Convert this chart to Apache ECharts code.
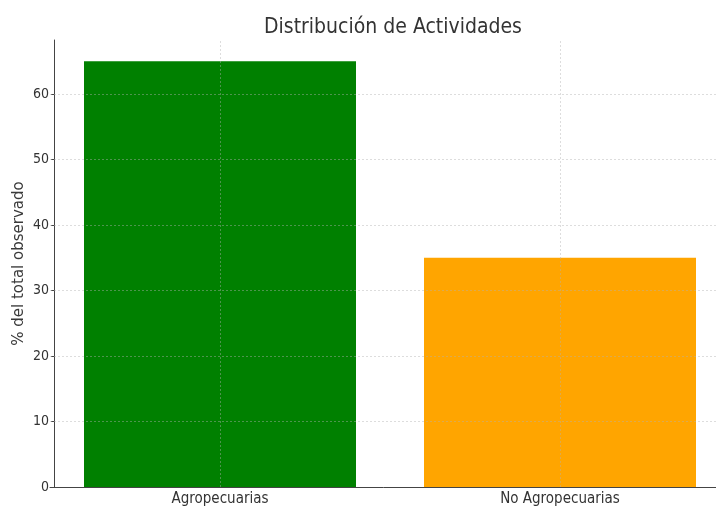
<!DOCTYPE html>
<html>
<head>
<meta charset="utf-8">
<script src="https://cdn.jsdelivr.net/npm/echarts@6/dist/echarts.min.js"></script>
<style>
  html, body { margin: 0; padding: 0; background: #fff; }
  #chart { width: 716px; height: 510px; }
</style>
</head>
<body>
<div id="chart"></div>
<script>
var categories = ['Agropecuarias', 'No Agropecuarias'];
var values = [65, 35];
var barColors = ['#008000', '#FFA500'];
var yTicks = [10, 20, 30, 40, 50, 60];

var chart = echarts.init(document.getElementById('chart'));

var gridStyle = { color: 'rgba(176,176,176,0.55)', width: 0.8, type: [2, 2] };

var markData = [];
categories.forEach(function (c) { markData.push({ xAxis: c }); });
yTicks.forEach(function (t) { markData.push({ yAxis: t }); });

var option = {
    animation: false,
    textStyle: { fontFamily: 'DejaVu Sans Condensed' },
    title: {
        text: 'Distribución de Actividades',
        left: 388,
        textAlign: 'center',
        top: 12,
        textStyle: { fontSize: 21, fontWeight: 'normal', color: '#333', fontFamily: 'DejaVu Sans Condensed' }
    },
    grid: { left: 50, top: 40, width: 680, height: 447, outerBoundsMode: 'none', containLabel: false },
    xAxis: {
        type: 'category',
        data: categories,
        axisLine: { lineStyle: { color: '#444', width: 1 } },
        axisTick: { alignWithLabel: true, length: 3, lineStyle: { color: '#444' } },
        axisLabel: { color: '#333', fontSize: 15, margin: 5, fontFamily: 'DejaVu Sans Condensed' },
        splitLine: { show: false }
    },
    yAxis: {
        type: 'value',
        min: 0,
        max: 68.25,
        interval: 10,
        offset: -4,
        name: '% del total observado',
        nameLocation: 'middle',
        nameGap: 27,
        nameMoveOverlap: false,
        nameTextStyle: { color: '#3a3a3a', fontSize: 15, fontFamily: 'DejaVu Sans' },
        axisLine: { show: true, lineStyle: { color: '#444', width: 1 } },
        axisTick: { show: true, length: 3, lineStyle: { color: '#444' } },
        axisLabel: {
            color: '#333', fontSize: 14, margin: 5, fontFamily: 'DejaVu Sans Condensed',
            showMaxLabel: false
        },
        splitLine: { show: false }
    },
    series: [
        {
            type: 'bar',
            barWidth: '80%',
            data: values.map(function (v, i) {
                return { value: v, itemStyle: { color: barColors[i] } };
            }),
            markLine: {
                silent: true,
                symbol: 'none',
                label: { show: false },
                lineStyle: gridStyle,
                data: markData
            }
        }
    ]
};

chart.setOption(option);
</script>
</body>
</html>
